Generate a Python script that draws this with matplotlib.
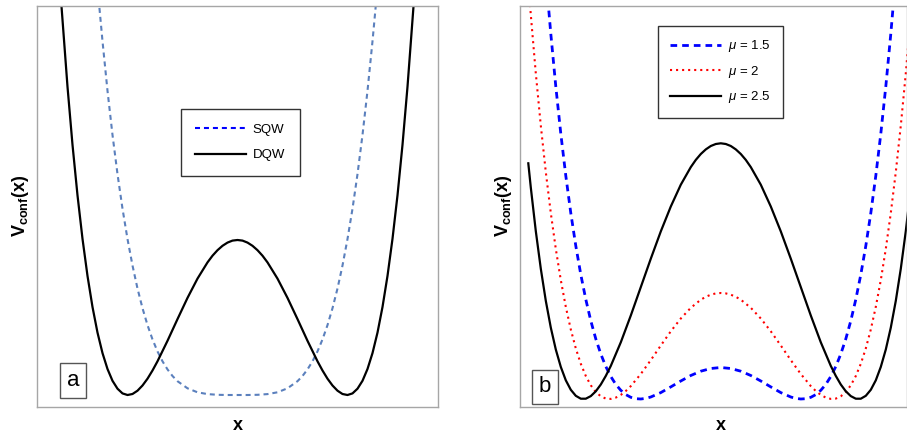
import matplotlib
matplotlib.use("Agg")
import matplotlib.pyplot as plt
from matplotlib.lines import Line2D

plt.rcParams['font.family'] = ['Liberation Sans', 'DejaVu Sans']
plt.rcParams['mathtext.fontset'] = 'custom'
plt.rcParams['mathtext.rm'] = 'Liberation Sans'
plt.rcParams['mathtext.it'] = 'Liberation Sans:italic'
plt.rcParams['mathtext.bf'] = 'Liberation Sans:bold'

# --- panel a : single (SQW) and double (DQW) quantum well ---
DQW_X = [-180, -176, -170, -165, -160, -155, -150, -145, -140, -135, -130, -125, -120, -115, -110,
         -105, -100, -95, -90, -85, -80, -70, -60, -50, -40, -30, -25, -20, -15, -10, -5, 0,
         5, 10, 15, 20, 25, 30, 40, 50, 60, 70, 80, 85, 90, 95, 100, 105, 110, 115, 120, 125, 130,
         135, 140, 145, 150, 155, 160, 165, 170, 176, 180]
DQW_Y = [461, 400.6, 320.3, 262.2, 211.7, 168.2, 131.1, 100.0, 74.4, 53.9, 38.0, 26.2, 18.3, 13.6, 12.0,
         13.0, 16.3, 21.5, 28.3, 36.5, 45.7, 66.2, 87.9, 109.1, 128.4, 144.6, 151.3, 156.8, 161.2, 164.4, 166.4, 167,
         166.4, 164.4, 161.2, 156.8, 151.3, 144.6, 128.4, 109.1, 87.9, 66.2, 45.7, 36.5, 28.3, 21.5, 16.3, 13.0, 12.0, 13.6, 18.3, 26.2, 38.0,
         53.9, 74.4, 100.0, 131.1, 168.2, 211.7, 262.2, 320.3, 400.6, 461]

SQW_X = [-145, -138, -135, -130, -125, -120, -115, -110, -105, -100, -95, -90, -85, -80, -75, -70,
         -65, -60, -50, -40, -30, -20, -10, 0, 10, 20, 30, 40, 50, 60, 65, 70, 75, 80, 85, 90,
         95, 100, 105, 110, 115, 120, 125, 130, 135, 138, 145]
SQW_Y = [482.9, 398.3, 365.8, 316.2, 272.1, 232.9, 198.3, 168.0, 141.5, 118.5, 98.8, 81.9, 67.6, 55.6, 45.7, 37.6,
         31.0, 25.8, 18.7, 14.7, 12.9, 12.2, 12.0, 12.0, 12.0, 12.2, 12.9, 14.7, 18.7, 25.8, 31.0, 37.6, 45.7, 55.6, 67.6, 81.9,
         98.8, 118.5, 141.5, 168.0, 198.3, 232.9, 272.1, 316.2, 365.8, 398.3, 482.9]

# --- panel b : DQW for three values of mu ---
MU15_X = [-175, -170, -165, -160, -155, -150, -145, -140, -135, -130, -125, -120, -115, -110, -105,
          -100, -95, -90, -85, -80, -75, -70, -60, -50, -40, -30, -20, -10, 0,
          10, 20, 30, 40, 50, 60, 70, 75, 80, 85, 90, 95, 100, 105, 110, 115, 120, 125, 130,
          135, 140, 145, 150, 155, 160, 165, 170, 175]
MU15_Y = [431.7, 373.2, 320.5, 273.3, 231.2, 193.9, 161.1, 132.4, 107.6, 86.2, 68.1, 53.0, 40.5, 30.5, 22.6,
          16.7, 12.4, 9.7, 8.3, 8.0, 8.6, 10.0, 14.4, 20.1, 26.0, 31.5, 35.8, 38.5, 39.5,
          38.5, 35.8, 31.5, 26.0, 20.1, 14.4, 10.0, 8.6, 8.0, 8.3, 9.7, 12.4, 16.7, 22.6, 30.5, 40.5, 53.0, 68.1, 86.2,
          107.6, 132.4, 161.1, 193.9, 231.2, 273.3, 320.5, 373.2, 431.7]

MU2_X = [-195, -190, -185, -180, -175, -170, -165, -160, -155, -150, -145, -140, -135, -130, -125,
         -120, -115, -110, -105, -100, -95, -90, -80, -70, -60, -50, -40, -30, -20, -15, -10, -5, 0,
         5, 10, 15, 20, 30, 40, 50, 60, 70, 80, 90, 95, 100, 105, 110, 115, 120, 125, 130, 135,
         140, 145, 150, 155, 160, 165, 170, 175, 180, 185, 190, 195]
MU2_Y = [457.2, 392.2, 333.7, 281.4, 235.0, 194.0, 158.1, 126.9, 100.2, 77.5, 58.6, 43.2, 31.0, 21.7, 15.0,
         10.7, 8.4, 8.1, 9.4, 12.1, 16.0, 20.9, 33.0, 46.9, 61.5, 75.7, 88.5, 99.2, 107.3, 110.2, 112.3, 113.6, 114,
         113.6, 112.3, 110.2, 107.3, 99.2, 88.5, 75.7, 61.5, 46.9, 33.0, 20.9, 16.0, 12.1, 9.4, 8.1, 8.4, 10.7, 15.0, 21.7, 31.0,
         43.2, 58.6, 77.5, 100.2, 126.9, 158.1, 194.0, 235.0, 281.4, 333.7, 392.2, 457.2]

MU25_X = [-192.5, -190, -185, -180, -175, -170, -165, -160, -155, -150, -145, -140, -135, -130, -125,
          -120, -115, -110, -100, -90, -80, -70, -60, -50, -40, -30, -25, -20, -15, -10, -5, 0,
          5, 10, 15, 20, 25, 30, 40, 50, 60, 70, 80, 90, 100, 110, 115, 120, 125, 130, 135, 140, 145,
          150, 155, 160, 165, 170, 175, 180, 185, 190, 192.5, 195]
MU25_Y = [243.7, 219.5, 175.9, 138.3, 106.2, 79.4, 57.5, 40.1, 26.7, 17.2, 11.2, 8.3, 8.3, 10.9, 15.7,
          22.5, 31.1, 41.1, 64.7, 91.5, 119.9, 148.3, 175.6, 200.5, 222.3, 239.9, 247.1, 253.0, 257.6, 261.0, 263.0, 263.7,
          263.0, 261.0, 257.6, 253.0, 247.1, 239.9, 222.3, 200.5, 175.6, 148.3, 119.9, 91.5, 64.7, 41.1, 31.1, 22.5, 15.7, 10.9, 8.3, 8.3, 11.2,
          17.2, 26.7, 40.1, 57.5, 79.4, 106.2, 138.3, 175.9, 219.5, 243.7, 269.5]

SPINE = '#a6a6a6'


def habiller(ax, xlim, lettre, pos_lettre, pos_ylab, pos_xlab):
    ax.set_xlim(*xlim)
    ax.set_ylim(0, 401)
    ax.set_xticks([])
    ax.set_yticks([])
    for s in ax.spines.values():
        s.set_color(SPINE)
        s.set_linewidth(1)
    ax.text(pos_lettre[0], pos_lettre[1], lettre, transform=ax.transAxes, fontsize=16,
            ha='center', va='center',
            bbox=dict(boxstyle='square,pad=0.3', fc='white', ec='#555555', lw=1))
    ax.text(pos_ylab[0], pos_ylab[1], r'$\mathbf{V_{conf}(x)}$', transform=ax.transAxes,
            rotation=90, fontsize=13, ha='center', va='center')
    ax.text(pos_xlab[0], pos_xlab[1], 'x', transform=ax.transAxes, fontsize=13,
            fontweight='bold', ha='center', va='center')


fig = plt.figure(figsize=(9.07, 4.34), dpi=100)
ax1 = fig.add_axes([37 / 907, 27 / 434, 401 / 907, 401 / 434])
ax2 = fig.add_axes([520.3 / 907, 27 / 434, 386.7 / 907, 401 / 434])

# panneau a
ax1.plot(SQW_X, SQW_Y, color='#5b80bd', lw=1.5, dashes=(2.4, 1.9))
ax1.plot(DQW_X, DQW_Y, color='black', lw=1.6)
habiller(ax1, (-200.5, 200.5), 'a', (0.0905, 0.066), (-0.040, 0.502), (0.5, -0.047))
poignees_a = [Line2D([], [], color='blue', lw=1.5, dashes=(2.4, 1.9)),
              Line2D([], [], color='black', lw=1.6)]
ax1.legend(poignees_a, ['SQW', 'DQW'], loc='upper left', bbox_to_anchor=(0.359, 0.743),
           borderaxespad=0, fontsize=9.5, handlelength=3.8, handletextpad=0.55,
           borderpad=1.1, labelspacing=1.0, fancybox=False, framealpha=1,
           edgecolor='#333333')

# panneau b
l1, = ax2.plot(MU15_X, MU15_Y, color='blue', lw=2, dashes=(2.4, 1.8))
l2, = ax2.plot(MU2_X, MU2_Y, color='red', lw=1.5, dashes=(1, 1.9))
l3, = ax2.plot(MU25_X, MU25_Y, color='black', lw=1.6)
habiller(ax2, (-200.5, 186.2), 'b', (0.0639, 0.0506), (-0.0434, 0.502), (0.518, -0.047))
ax2.legend([l1, l2, l3], [r'$\mu$ = 1.5', r'$\mu$ = 2', r'$\mu$ = 2.5'], loc='upper left',
           bbox_to_anchor=(0.356, 0.951), borderaxespad=0, fontsize=9.5, handlelength=3.8,
           handletextpad=0.55, borderpad=0.95, labelspacing=0.72, fancybox=False,
           framealpha=1, edgecolor='#333333')

fig.savefig('out.png', dpi=100)
